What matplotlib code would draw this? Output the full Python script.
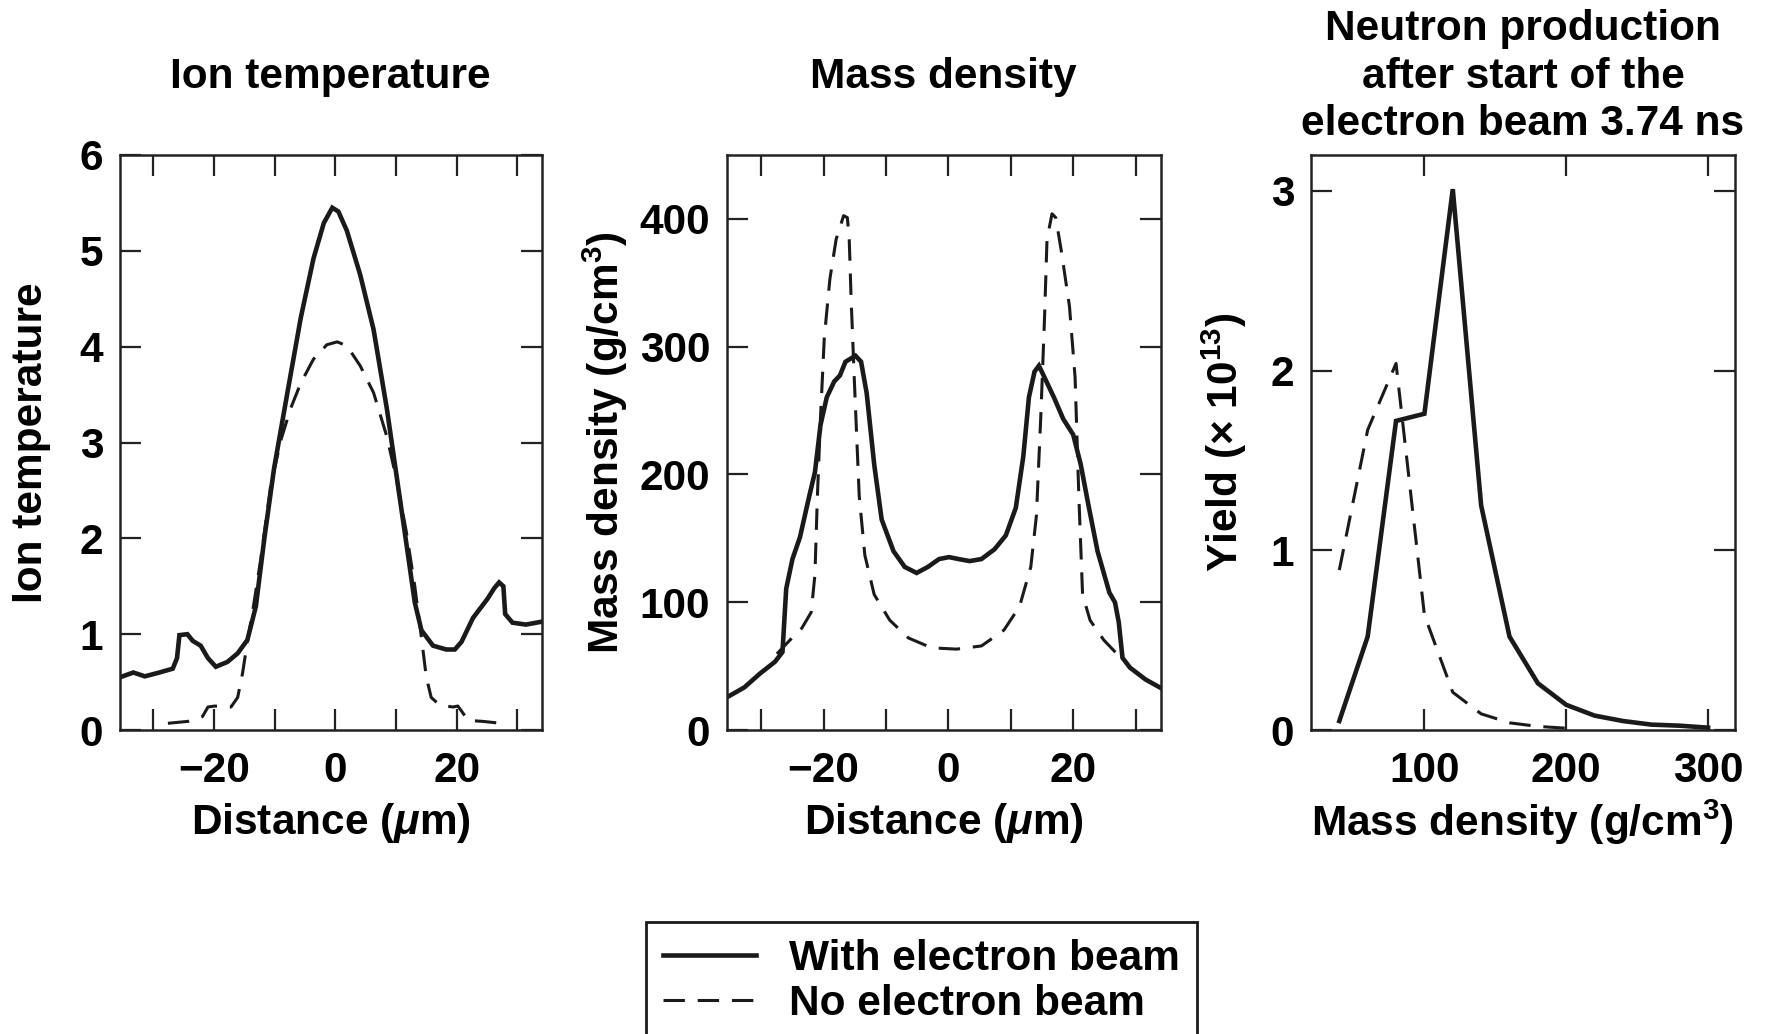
import matplotlib
matplotlib.use("Agg")
import matplotlib.pyplot as plt
from matplotlib.lines import Line2D

plt.rcParams['font.family'] = ['Liberation Sans', 'DejaVu Sans']
plt.rcParams['font.weight'] = 'bold'
plt.rcParams['mathtext.fontset'] = 'custom'
plt.rcParams['mathtext.rm'] = 'Liberation Sans:bold'
plt.rcParams['mathtext.it'] = 'Liberation Sans:italic:bold'
plt.rcParams['mathtext.bf'] = 'Liberation Sans:bold'
plt.rcParams['mathtext.sf'] = 'Liberation Sans'

# ion temperature vs distance (um)
ti_beam_x = [-35.5, -33.3, -31.4, -29.0, -26.8, -26.1, -25.7, -24.4, -23.5, -22.2, -21.0, -19.7,
             -17.8, -16.1, -14.5, -13.1, -11.7, -10.1, -7.9, -5.7, -3.6, -1.9, -0.5, 0.5, 1.9,
             4.1, 6.3, 8.5, 10.1, 11.7, 13.1, 14.2, 16.1, 18.3, 19.7, 20.8, 22.7, 25.1, 26.2,
             27.0, 27.7, 28.0, 29.2, 31.4, 34.0]
ti_beam_y = [0.55, 0.60, 0.56, 0.60, 0.64, 0.75, 0.99, 1.00, 0.93, 0.88, 0.75, 0.66,
             0.71, 0.80, 0.94, 1.29, 2.00, 2.73, 3.52, 4.30, 4.92, 5.29, 5.45, 5.41, 5.21,
             4.75, 4.18, 3.35, 2.65, 1.95, 1.33, 1.04, 0.88, 0.84, 0.84, 0.92, 1.17, 1.37, 1.48,
             1.54, 1.50, 1.21, 1.12, 1.10, 1.13]
ti_nobeam_x = [-27.6, -24.3, -21.9, -21.0, -19.9, -17.2, -16.1, -15.3, -14.5, -13.7, -12.3, -10.7,
               -9.0, -7.4, -5.7, -3.6, -1.4, 0.3, 1.9, 4.1, 6.3, 8.5, 10.1, 11.7, 13.1, 14.2,
               15.0, 15.8, 17.2, 19.4, 20.2, 21.0, 21.9, 24.3, 27.3]
ti_nobeam_y = [0.07, 0.09, 0.14, 0.24, 0.25, 0.24, 0.34, 0.59, 0.92, 1.21, 1.78, 2.53,
               3.02, 3.35, 3.62, 3.87, 4.02, 4.05, 4.01, 3.80, 3.52, 3.06, 2.61, 2.07, 1.50, 0.96,
               0.55, 0.34, 0.26, 0.24, 0.25, 0.18, 0.10, 0.09, 0.07]

# mass density vs distance (um)
rho_beam_x = [-35.5, -32.7, -30.2, -27.8, -26.6, -26.0, -25.0, -23.8, -22.3, -21.4, -20.5, -19.5,
              -18.3, -17.4, -16.5, -14.9, -14.0, -13.1, -11.9, -10.7, -8.8, -7.0, -5.1, -3.3,
              -1.5, 0.1, 1.6, 3.4, 5.3, 7.4, 9.2, 10.8, 12.0, 12.9, 13.8, 14.5, 15.4, 16.9, 18.4,
              20.0, 21.2, 22.4, 23.9, 25.8, 26.7, 27.3, 27.9, 29.1, 31.6, 34.0]
rho_beam_y = [25.6, 33.4, 44.2, 53.4, 61, 110.6, 133.8, 150.8, 183.2, 201.7, 238.8, 260.4,
              272.8, 277.4, 288.2, 292.9, 288.2, 263.5, 207.9, 164.7, 139.9, 127.6, 122.9, 127.6,
              133.8, 135.3, 133.8, 132.2, 133.8, 141.5, 152.3, 173.9, 214.1, 260.4, 280.5, 285.1,
              275.9, 260.4, 243.4, 231.1, 207.9, 177.0, 139.9, 107.5, 99.8, 84.3, 56.5, 48.8,
              39.5, 33.0]
rho_nobeam_x = [-27.5, -25.4, -23.5, -22.0, -21.4, -21.0, -20.5, -19.9, -19.0, -18.0, -16.8, -16.2,
                -15.9, -15.6, -15.1, -14.3, -13.4, -11.9, -9.4, -6.4, -2.7, 1.3, 5.3, 8.9, 11.4,
                13.2, 14.1, 14.8, 15.4, 15.8, 16.6, 17.2, 18.1, 19.4, 20.3, 20.9, 21.5, 22.7,
                24.9, 27.9]
rho_nobeam_y = [59.6, 70.4, 79.7, 92.1, 121.4, 183.2, 245, 306.8, 353, 384, 402.5, 401,
                384, 337.7, 275.9, 183.2, 136.9, 106.0, 85.9, 72.0, 64.3, 63.3, 65.8, 78.2, 96.7,
                127.6, 167.7, 245, 322.2, 384, 404, 401, 374.7, 331.5, 275.9, 183.2, 106, 85.9,
                70.4, 55]

# neutron yield (x1e13) vs mass density
yield_beam_x = [40, 60, 80, 100, 120, 140, 160, 180, 200, 220, 240, 260, 280, 300]
yield_beam_y = [0.05, 0.52, 1.72, 1.76, 3.01, 1.25, 0.52, 0.26, 0.14, 0.08, 0.05, 0.03, 0.024, 0.013]
yield_nobeam_x = [40, 60, 80, 100, 120, 140, 160, 180, 200]
yield_nobeam_y = [0.89, 1.67, 2.04, 0.64, 0.21, 0.09, 0.04, 0.02, 0.01]

titles = ['Ion temperature', 'Mass density',
          'Neutron production\nafter start of the\nelectron beam 3.74 ns']
ylabels = ['Ion temperature', r'Mass density (g/cm$^3$)',
           r'Yield $\mathsf{(\times}$ 10$^{13}$$\mathsf{)}$']
xlabels = [r'Distance ($\mathit{\mu}$m)', r'Distance ($\mathit{\mu}$m)', r'Mass density (g/cm$^3$)']

FS = 30.5
solid = dict(color='#1a1a1a', lw=3.3, solid_joinstyle='miter')
dashed = dict(color='#1a1a1a', lw=2.2, linestyle=(0, (7, 4.2)))

fig = plt.figure(figsize=(17.67, 10.34), dpi=100)
ax1 = fig.add_axes([0.0679, 0.294, 0.2386, 0.5561])
ax2 = fig.add_axes([0.4114, 0.294, 0.2454, 0.5561])
ax3 = fig.add_axes([0.7419, 0.294, 0.2400, 0.5561])

ax1.plot(ti_beam_x, ti_beam_y, **solid)
ax1.plot(ti_nobeam_x, ti_nobeam_y, **dashed)
ax1.set_xlim(-35.5, 34)
ax1.set_ylim(0, 6)
ax1.set_yticks(range(0, 7))

ax2.plot(rho_beam_x, rho_beam_y, **solid)
ax2.plot(rho_nobeam_x, rho_nobeam_y, **dashed)
ax2.set_xlim(-35.5, 34)
ax2.set_ylim(0, 450)
ax2.set_yticks([0, 100, 200, 300, 400])

for ax in (ax1, ax2):
    ax.set_xticks([-30, -20, -10, 0, 10, 20, 30])
    ax.set_xticklabels(['', '\u221220', '', '0', '', '20', ''])

ax3.plot(yield_beam_x, yield_beam_y, **solid)
ax3.plot(yield_nobeam_x, yield_nobeam_y, **dashed)
ax3.set_xlim(20, 319)
ax3.set_ylim(0, 3.2)
ax3.set_xticks([100, 200, 300])
ax3.set_yticks([0, 1, 2, 3])

ylab_x = [-0.21, -0.281, -0.205]
for ax, t, yl, xl, lx in zip((ax1, ax2, ax3), titles, ylabels, xlabels, ylab_x):
    ax.tick_params(direction='in', length=15, width=1.6, top=True, right=True,
                   labelsize=FS, pad=12, color='#222222')
    ax.tick_params(axis='x', pad=15)
    for s in ax.spines.values():
        s.set_linewidth(1.8)
        s.set_color('#222222')
    ax.set_title(t, fontsize=FS, fontweight='bold', y=1.1365, va='center', pad=0,
                 linespacing=1.25)
    ax.set_ylabel(yl, fontsize=FS, fontweight='bold', va='center')
    ax.yaxis.set_label_coords(lx, 0.5)
    ax.set_xlabel(xl, fontsize=FS, fontweight='bold', va='center')
    ax.xaxis.set_label_coords(0.5, -0.161)

handles = [Line2D([], [], **solid), Line2D([], [], **dashed)]
leg = fig.legend(handles, ['With electron beam', 'No electron beam'],
                 loc='upper left', bbox_to_anchor=(0.3655, 0.1084), fontsize=FS,
                 frameon=True, fancybox=False, edgecolor='#1a1a1a', framealpha=1,
                 handlelength=2.2, handletextpad=0.78, labelspacing=0.12,
                 borderpad=0.4, borderaxespad=0)
leg.get_frame().set_linewidth(2)

fig.savefig('out.png', dpi=100)
